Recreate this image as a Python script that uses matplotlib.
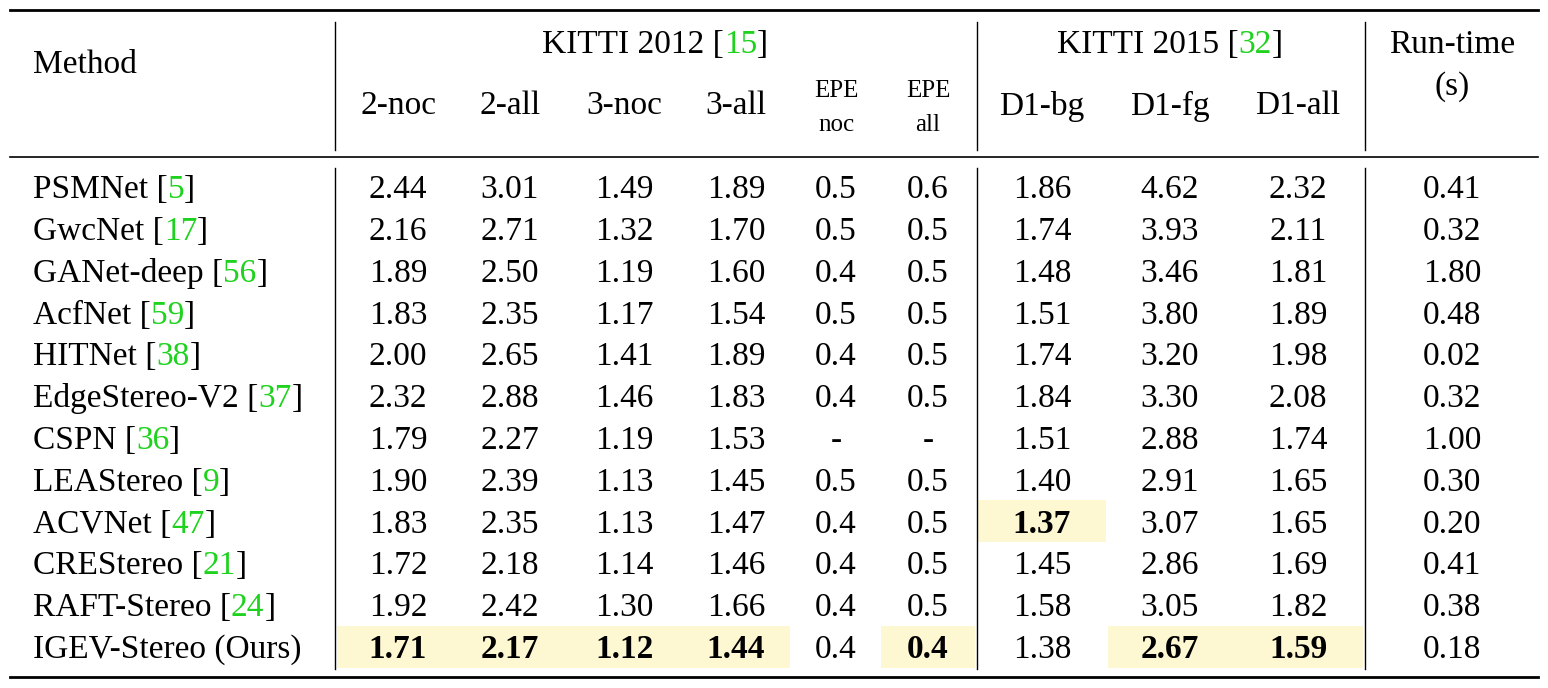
import matplotlib
matplotlib.use("Agg")
import matplotlib.pyplot as plt
from matplotlib.patches import Rectangle

methods = ["PSMNet", "GwcNet", "GANet-deep", "AcfNet", "HITNet", "EdgeStereo-V2", "CSPN",
           "LEAStereo", "ACVNet", "CREStereo", "RAFT-Stereo", "IGEV-Stereo (Ours)"]
cites = ["5", "17", "56", "59", "38", "37", "36", "9", "47", "21", "24", ""]
noc2 = ["2.44","2.16","1.89","1.83","2.00","2.32","1.79","1.90","1.83","1.72","1.92","1.71"]
all2 = ["3.01","2.71","2.50","2.35","2.65","2.88","2.27","2.39","2.35","2.18","2.42","2.17"]
noc3 = ["1.49","1.32","1.19","1.17","1.41","1.46","1.19","1.13","1.13","1.14","1.30","1.12"]
all3 = ["1.89","1.70","1.60","1.54","1.89","1.83","1.53","1.45","1.47","1.46","1.66","1.44"]
epe_noc = ["0.5","0.5","0.4","0.5","0.4","0.4","-","0.5","0.4","0.4","0.4","0.4"]
epe_all = ["0.6","0.5","0.5","0.5","0.5","0.5","-","0.5","0.5","0.5","0.5","0.4"]
d1_bg = ["1.86","1.74","1.48","1.51","1.74","1.84","1.51","1.40","1.37","1.45","1.58","1.38"]
d1_fg = ["4.62","3.93","3.46","3.80","3.20","3.30","2.88","2.91","3.07","2.86","3.05","2.67"]
d1_all = ["2.32","2.11","1.81","1.89","1.98","2.08","1.74","1.65","1.65","1.69","1.82","1.59"]
runtime = ["0.41","0.32","1.80","0.48","0.02","0.32","1.00","0.30","0.20","0.41","0.38","0.18"]

cols = [noc2, all2, noc3, all3, epe_noc, epe_all, d1_bg, d1_fg, d1_all, runtime]
col_x = [398, 510, 624, 736, 836, 928, 1042, 1170, 1298, 1452]
sub_headers = ["2-noc", "2-all", "3-noc", "3-all", None, None, "D1-bg", "D1-fg", "D1-all"]
bold = {(8, 6), (11, 0), (11, 1), (11, 2), (11, 3), (11, 5), (11, 7), (11, 8)}

FONT = "Liberation Serif"
FS = 24
GREEN = "#1ed21e"
HL = "#fdf7d2"
DY = 3

fig = plt.figure(figsize=(15.48, 6.88), dpi=100)
ax = fig.add_axes([0, 0, 1, 1])
ax.set_xlim(0, 1548); ax.set_ylim(688, 0); ax.axis("off")

row_y = [187 + i * 41.8 for i in range(12)]

def hl(x0, x1, r):
    y = row_y[r]
    ax.add_patch(Rectangle((x0, y - 21), x1 - x0, 42, color=HL, zorder=0, lw=0))
hl(978, 1106, 8)
hl(337, 790, 11)
hl(881, 975, 11)
hl(1108, 1363, 11)

ax.plot([10, 1538], [10, 10], color="k", lw=2)
ax.plot([10, 1538], [157, 157], color="k", lw=1.2)
ax.plot([10, 1538], [677, 677], color="k", lw=2)
for x in [335, 977, 1365]:
    ax.plot([x, x], [22, 150], color="k", lw=1)
    ax.plot([x, x], [168, 669], color="k", lw=1)

fig.canvas.draw()
r = fig.canvas.get_renderer()

def txt(x, y, s, **kw):
    kw.setdefault("fontsize", FS)
    return ax.text(x, y + DY, s, family=FONT, va="center", **kw)

def seq(x, y, parts, ha_center=False):
    ts = []
    cur = x
    for s, c in parts:
        t = txt(cur, y, s, color=c, ha="left")
        cur += t.get_window_extent(r).width
        ts.append(t)
    if ha_center:
        w = cur - x
        for t in ts:
            px, py = t.get_position()
            t.set_position((px - w / 2, py))

txt(33, 62, "Method")
seq(655, 42, [("KITTI 2012 [", "k"), ("15", GREEN), ("]", "k")], ha_center=True)
seq(1170, 42, [("KITTI 2015 [", "k"), ("32", GREEN), ("]", "k")], ha_center=True)
txt(1452, 42, "Run-time", ha="center")
txt(1452, 84, "(s)", ha="center")
for x, h in zip(col_x, sub_headers):
    if h:
        txt(x, 103, h, ha="center")
for x, lab in [(836, "noc"), (928, "all")]:
    txt(x, 88, "EPE", fontsize=18, ha="center")
    txt(x, 122, lab, fontsize=18, ha="center")

for i, m in enumerate(methods):
    y = row_y[i]
    if cites[i]:
        seq(33, y, [(m + " [", "k"), (cites[i], GREEN), ("]", "k")])
    else:
        txt(33, y, m)
    for j, (x, col) in enumerate(zip(col_x, cols)):
        txt(x, y, col[i], ha="center", weight="bold" if (i, j) in bold else "normal")

fig.savefig("out.png", dpi=100)
